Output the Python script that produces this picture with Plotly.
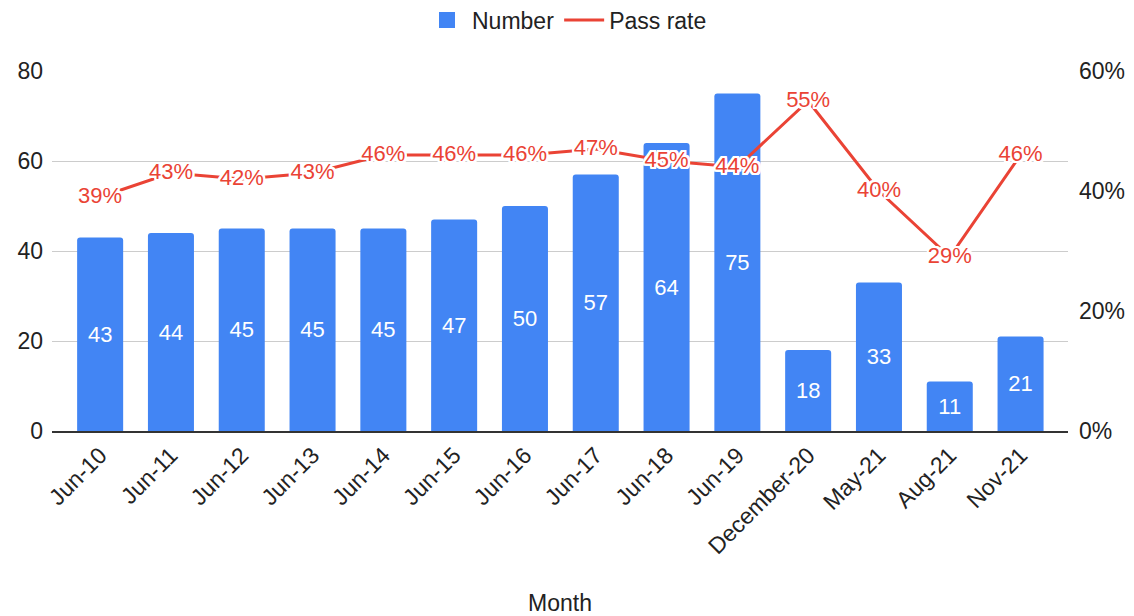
import plotly.graph_objects as go

months = ["Jun-10", "Jun-11", "Jun-12", "Jun-13", "Jun-14", "Jun-15", "Jun-16",
          "Jun-17", "Jun-18", "Jun-19", "December-20", "May-21", "Aug-21", "Nov-21"]
number = [43, 44, 45, 45, 45, 47, 50, 57, 64, 75, 18, 33, 11, 21]
pass_rate = [0.39, 0.43, 0.42, 0.43, 0.46, 0.46, 0.46, 0.47, 0.45, 0.44, 0.55, 0.40, 0.29, 0.46]

BLUE = "#4285F4"
RED = "#EA4335"
FONT = "Liberation Sans, Arial, sans-serif"
FS = 23

halo = ", ".join(f"{dx}px {dy}px 0 white" for dx in (-2, -1, 0, 1, 2) for dy in (-2, -1, 0, 1, 2) if dx or dy)

fig = go.Figure()
fig.add_trace(go.Bar(
    x=months, y=number, name="Number", marker=dict(color=BLUE, line=dict(width=0)),
    text=number, textposition="inside", insidetextanchor="middle",
    textfont=dict(color="white", size=22, family=FONT), width=0.65,
    showlegend=False, legendgroup="num",
))
# legend-only entry with a larger square swatch for the bar series
fig.add_trace(go.Scatter(
    x=[None], y=[None], name="Number", mode="markers", legendgroup="num",
    marker=dict(color=BLUE, symbol="square", size=22), hoverinfo="skip",
))
fig.add_trace(go.Scatter(
    x=months, y=pass_rate, name="Pass rate", yaxis="y2", mode="lines+text",
    line=dict(color=RED, width=3),
    texttemplate="%{y:.0%}", textposition="middle center",
    textfont=dict(color=RED, size=22, family=FONT, shadow=halo),
))

fig.update_layout(
    width=1134, height=616,
    margin=dict(l=52, r=66, t=71, b=185),
    paper_bgcolor="white", plot_bgcolor="white",
    font=dict(family=FONT, size=FS, color="#222"),
    barcornerradius=3,
    showlegend=True,
    legend=dict(orientation="h", x=0.5, xanchor="center", xref="container",
                y=1 - 20 / 616, yanchor="middle", yref="container",
                font=dict(size=FS, color="#222"), itemwidth=40, itemsizing="trace"),
    xaxis=dict(range=[-0.68, 13.67], tickangle=-45, showgrid=False, showline=True,
               linecolor="#333", linewidth=1.5, ticks="", automargin=False,
               title=dict(text="Month", standoff=150, font=dict(size=FS))),
    yaxis=dict(range=[0, 80], dtick=20, gridcolor="#cccccc", zeroline=False,
               ticks="", automargin=False, ticklabelstandoff=8),
    yaxis2=dict(range=[0, 0.6], dtick=0.2, tickformat=".0%", overlaying="y", side="right",
                showgrid=False, zeroline=False, ticks="", automargin=False, ticklabelstandoff=10),
)

fig.write_html("out.html")
